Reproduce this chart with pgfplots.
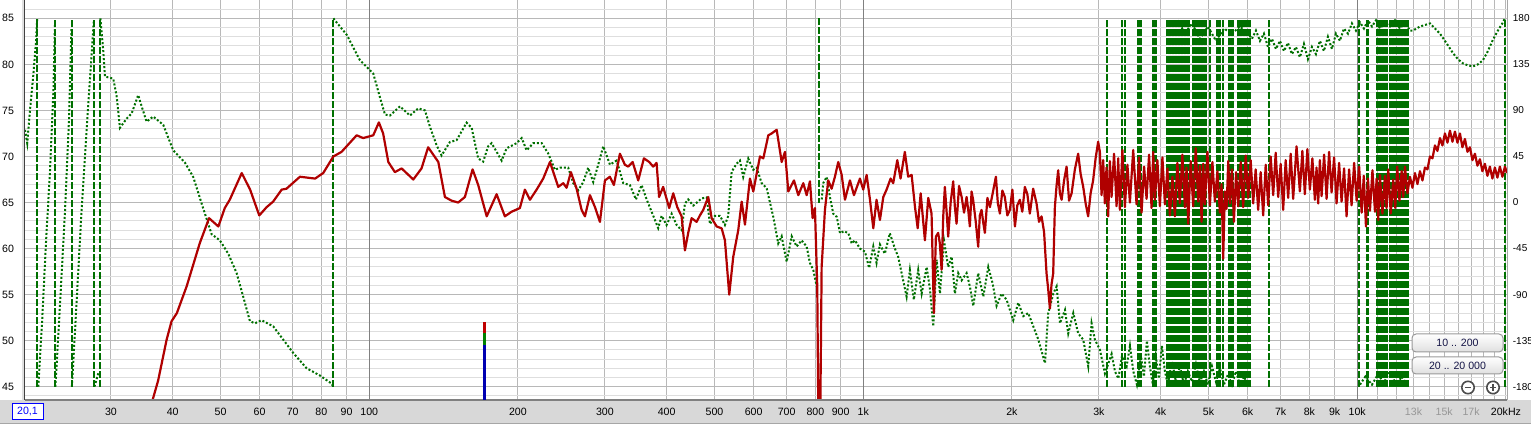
\documentclass[border=0pt]{standalone}
\usepackage{fontspec}
\setmainfont{Liberation Sans}
\usepackage{pgfplots}
\pgfplotsset{compat=1.18}
\usepackage{pgfplotstable}
\usetikzlibrary{shadings}

\definecolor{magred}{RGB}{176,0,0}
\definecolor{phgreen}{RGB}{0,112,0}
\definecolor{gridmaj}{RGB}{184,184,184}
\definecolor{gridmin}{RGB}{222,222,222}
\definecolor{griddec}{RGB}{128,128,128}
\definecolor{panel}{RGB}{216,216,216}
\definecolor{lbl}{RGB}{150,150,150}
\definecolor{btntext}{RGB}{20,20,70}

% magnitude (Hz, dB)
\pgfplotstableread[row sep=\\]{
f db\\
34.0 38.0\\ 36.5 43.7\\ 37.4 45.7\\ 38.9 50.1\\ 39.8 52.1\\ 40.8 53.0\\ 42.7 55.9\\ 45.4 60.6\\ 47.4 63.3\\ 49.5 62.4\\
51.0 64.4\\ 52.2 65.3\\ 55.2 68.2\\ 57.4 66.4\\ 59.9 63.6\\ 62.0 64.5\\ 63.9 65.1\\ 66.5 66.4\\ 68.0 66.5\\ 72.4 67.8\\
77.7 67.6\\ 80.7 68.2\\ 84.6 70.0\\ 87.9 70.5\\ 94.3 72.3\\ 97.2 72.0\\ 101.9 72.3\\ 104.6 73.7\\ 106.7 72.5\\ 109.3 69.4\\
112.7 68.3\\ 116.3 68.7\\ 122.8 67.5\\ 127.6 68.7\\ 131.6 71.0\\ 138.0 69.4\\ 142.3 65.6\\ 146.8 65.2\\ 151.4 65.0\\ 156.2 65.6\\
161.9 68.6\\ 166.2 66.9\\ 172.9 63.5\\ 181.1 65.9\\ 188.2 63.5\\ 194.2 64.0\\ 201.8 64.4\\ 206.6 66.4\\ 211.5 65.3\\ 218.2 66.4\\
225.0 67.6\\ 232.2 69.4\\ 241.3 66.7\\ 247.0 67.1\\ 250.9 66.6\\ 256.0 68.3\\ 262.9 66.5\\ 269.1 64.2\\ 273.3 63.5\\ 279.8 65.8\\
286.4 64.5\\ 293.1 62.9\\ 300.0 67.4\\ 307.0 67.8\\ 312.8 66.9\\ 321.7 70.3\\ 329.3 69.1\\ 334.4 68.9\\ 341.4 69.4\\ 350.4 67.4\\
359.8 69.8\\ 368.8 69.4\\ 375.7 68.9\\ 381.7 69.3\\ 386.2 65.6\\ 393.6 66.7\\ 404.8 64.4\\ 412.5 66.0\\ 420.3 64.5\\ 428.9 63.5\\
435.6 59.8\\ 442.3 61.7\\ 449.4 63.3\\ 460.0 62.9\\ 467.1 63.6\\ 474.4 64.2\\ 485.6 65.6\\ 493.3 63.3\\ 505.0 62.4\\ 516.9 62.2\\
524.8 60.9\\ 535.5 55.0\\ 545.6 59.1\\ 558.5 62.0\\ 567.4 65.1\\ 576.2 62.6\\ 589.8 67.6\\ 599.0 66.2\\ 618.0 70.0\\ 627.7 69.8\\
642.5 72.3\\ 652.7 72.5\\ 668.0 72.9\\ 683.8 69.4\\ 694.5 70.5\\ 705.3 66.2\\ 724.2 67.4\\ 738.9 65.8\\ 756.3 67.1\\ 768.3 65.8\\
780.2 67.3\\ 790.0 63.3\\ 798.5 64.4\\ 807.1 55.9\\ 814.6 30.0\\ 823.8 58.0\\ 836.5 64.2\\ 849.5 67.4\\ 863.0 66.5\\ 876.4 67.8\\
890.1 69.4\\ 904.4 68.0\\ 918.4 65.3\\ 940.0 67.4\\ 957.7 65.8\\ 984.8 67.6\\ 1000 66.4\\ 1016 68.0\\ 1032 65.3\\ 1048 62.2\\
1064 65.3\\ 1081 63.1\\ 1098 65.6\\ 1115 66.4\\ 1136 67.6\\ 1150 67.1\\ 1172 69.6\\ 1190 67.6\\ 1214 70.5\\ 1233 67.8\\
1253 68.0\\ 1273 64.5\\ 1289 62.2\\ 1307 66.0\\ 1333 60.9\\ 1354 65.5\\ 1375 63.8\\ 1390 53.0\\ 1403 61.3\\ 1418 61.7\\
1429 60.6\\ 1441 57.7\\ 1452 63.5\\ 1463 66.7\\ 1475 64.0\\ 1486 61.3\\ 1503 65.0\\ 1521 67.3\\ 1533 64.5\\ 1545 62.7\\
1563 66.8\\ 1582 65.6\\ 1600 63.9\\ 1619 65.6\\ 1632 64.1\\ 1644 62.4\\ 1657 66.2\\ 1669 65.3\\ 1689 63.0\\ 1709 60.2\\
1722 63.6\\ 1736 64.2\\ 1750 62.8\\ 1763 61.7\\ 1784 65.5\\ 1805 64.5\\ 1830 66.1\\ 1856 67.8\\ 1873 64.9\\ 1891 63.8\\
1913 66.3\\ 1935 65.6\\ 1958 63.6\\ 1981 64.2\\ 2004 66.4\\ 2028 62.4\\ 2051 64.7\\ 2075 65.3\\ 2099 64.0\\ 2124 66.7\\
2149 65.9\\ 2174 63.8\\ 2208 66.5\\ 2243 64.9\\ 2269 62.9\\ 2296 63.5\\ 2323 61.8\\ 2350 57.3\\ 2368 55.6\\ 2387 53.5\\
2405 56.1\\ 2424 57.3\\ 2443 64.5\\ 2462 66.8\\ 2481 68.5\\ 2501 66.0\\ 2521 65.3\\ 2550 67.4\\ 2580 68.9\\ 2610 65.2\\
2641 66.0\\ 2682 68.6\\ 2723 70.3\\ 2755 68.1\\ 2788 66.7\\ 2820 64.9\\ 2853 63.5\\ 2886 66.0\\ 2920 67.4\\ 2954 69.8\\
2989 71.6\\ 3013 70.5\\ 3037 65.8\\ 3060 69.6\\ 3084 64.9\\ 3108 68.8\\ 3132 63.5\\ 3157 69.5\\ 3182 65.6\\ 3219 70.3\\
3257 64.6\\ 3282 69.8\\ 3308 64.2\\ 3347 70.7\\ 3386 64.5\\ 3426 69.1\\ 3466 65.0\\ 3520 70.7\\ 3575 64.8\\ 3617 69.9\\
3660 63.9\\ 3703 68.9\\ 3746 65.4\\ 3790 70.2\\ 3834 64.4\\ 3864 70.5\\ 3894 65.3\\ 3940 69.6\\ 3986 64.6\\ 4033 69.9\\
4080 64.8\\ 4128 68.7\\ 4176 63.6\\ 4225 67.8\\ 4274 63.5\\ 4324 69.3\\ 4375 64.9\\ 4426 70.2\\ 4478 64.5\\ 4513 68.8\\
4548 62.7\\ 4601 69.5\\ 4655 64.6\\ 4710 70.9\\ 4765 65.1\\ 4803 69.0\\ 4841 62.9\\ 4878 69.2\\ 4916 64.8\\ 4974 70.5\\
5032 64.7\\ 5091 69.4\\ 5150 65.1\\ 5211 68.4\\ 5272 63.9\\ 5313 67.0\\ 5354 58.9\\ 5396 66.2\\ 5439 64.3\\ 5481 69.5\\
5524 64.9\\ 5576 68.6\\ 5628 62.9\\ 5685 68.3\\ 5742 64.6\\ 5809 69.4\\ 5877 64.5\\ 5946 70.1\\ 6015 65.5\\ 6086 69.6\\
6157 64.9\\ 6229 68.6\\ 6302 64.2\\ 6376 68.3\\ 6451 63.6\\ 6527 69.1\\ 6603 64.7\\ 6681 70.0\\ 6759 65.8\\ 6838 70.4\\
6918 65.6\\ 6999 69.2\\ 7081 64.2\\ 7164 69.6\\ 7248 65.5\\ 7333 70.3\\ 7419 65.4\\ 7536 71.1\\ 7654 66.2\\ 7744 70.6\\
7835 65.9\\ 7927 70.8\\ 8019 66.4\\ 8113 69.8\\ 8208 65.3\\ 8272 68.8\\ 8336 64.9\\ 8402 69.6\\ 8469 65.7\\ 8569 70.2\\
8669 65.4\\ 8771 70.5\\ 8873 66.1\\ 8977 69.9\\ 9082 64.9\\ 9189 69.3\\ 9296 65.1\\ 9405 68.7\\ 9515 63.5\\ 9627 68.6\\
9740 64.7\\ 9856 69.3\\ 9972 65.2\\ 10089 68.9\\ 10207 63.9\\ 10310 67.9\\ 10414 62.4\\ 10512 67.6\\ 10610 64.1\\ 10735 68.5\\
10861 64.0\\ 10944 67.6\\ 11027 63.1\\ 11115 68.0\\ 11246 63.8\\ 11377 67.9\\ 11465 64.4\\ 11554 68.6\\ 11690 63.8\\ 11826 67.5\\
11937 64.4\\ 12049 68.9\\ 12174 65.2\\ 12299 68.4\\ 12394 65.6\\ 12490 68.9\\ 12637 66.0\\ 12785 67.8\\ 12935 66.6\\ 13087 68.2\\
13240 67.0\\ 13395 68.4\\ 13552 67.4\\ 13711 68.8\\ 13872 68.6\\ 14034 70.0\\ 14199 69.8\\ 14365 71.2\\ 14533 70.6\\ 14704 72.0\\
14876 71.2\\ 15050 72.5\\ 15227 71.5\\ 15405 72.8\\ 15586 71.6\\ 15768 72.7\\ 15953 71.5\\ 16140 72.5\\ 16329 71.0\\ 16520 71.9\\
16714 70.5\\ 16910 71.0\\ 17108 69.6\\ 17308 70.3\\ 17511 69.0\\ 17716 69.7\\ 17923 68.4\\ 18133 69.2\\ 18346 67.9\\ 18561 68.9\\
18778 67.6\\ 18998 68.8\\ 19221 67.7\\ 19446 68.9\\ 19674 67.8\\ 19905 68.9\\ 20100 68.2\\
}\magtable

% phase (Hz, degrees); nan rows separate the wrapped pieces
\pgfplotstableread[row sep=\\]{
f p\\
20.1 71\\ 20.31 58\\ 20.57 90\\ 20.88 123\\ 21.15 156\\ 21.28 180\\ nan nan\\
21.38 -180\\ 21.75 -120\\ 22.16 -40\\ 22.58 30\\ 22.95 110\\ 23.11 175\\ nan nan\\
23.16 -180\\ 23.66 -100\\ 24.21 -10\\ 24.67 80\\ 24.96 170\\ nan nan\\
25.01 -180\\ 25.48 -110\\ 26.08 -20\\ 26.70 60\\ 27.20 120\\ 27.71 178\\ nan nan\\
27.78 -180\\ 28.36 -165\\ nan nan\\
28.56 180\\ 28.94 149\\ 29.17 123\\ 29.86 122\\ 30.33 121\\ 30.81 104\\ 31.29 73\\ 32.28 82\\ 33.04 87\\ 34.07 105\\
34.62 94\\ 35.43 79\\ 36.54 84\\ 38.28 76\\ 40.11 51\\ 42.36 39\\ 44.03 25\\ 45.79 -1\\ 47.97 -31\\ 49.86 -37\\
51.83 -50\\ 53.90 -69\\ 55.58 -92\\ 57.35 -116\\ 58.70 -118\\ 60.57 -115\\ 63.93 -121\\ 66.98 -134\\ 70.19 -147\\ 74.70 -162\\
79.47 -169\\ 83.93 -177\\ 84.50 -180\\ nan nan\\
84.60 180\\ 85.23 178\\ 90.02 164\\ 95.76 139\\ 101.9 126\\ 105.1 103\\ 107.6 86\\ 110.1 85\\ 115.4 94\\ 120.9 85\\
125.7 92\\ 129.7 90\\ 132.7 74\\ 136.9 56\\ 140.1 46\\ 145.6 59\\ 150.3 61\\ 157.4 78\\ 161.2 73\\ 166.2 43\\
170.1 40\\ 174.1 55\\ 176.9 58\\ 185.4 41\\ 189.7 53\\ 198.8 58\\ 203.5 63\\ 208.3 51\\ 214.8 58\\ 223.4 58\\
230.3 48\\ 237.6 32\\ 243.2 34\\ 252.8 34\\ 258.8 19\\ 264.9 12\\ 271.2 20\\ 277.5 34\\ 284.1 20\\ 290.8 37\\
297.7 55\\ 307.1 37\\ 316.8 41\\ 326.7 19\\ 337.1 17\\ 346.7 3\\ 356.0 17\\ 364.4 3\\ 375.8 -13\\ 384.6 -25\\
390.8 -13\\ 399.9 -22\\ 409.4 -11\\ 419.1 -22\\ 428.9 -27\\ 435.6 -1\\ 442.3 3\\ 452.8 -3\\ 470.9 4\\ 482.0 5\\
489.5 -21\\ 501.0 -13\\ 512.8 -13\\ 524.8 -22\\ 533.0 -13\\ 541.5 30\\ 554.3 38\\ 562.9 41\\ 571.6 25\\ 585.1 43\\
598.9 32\\ 608.5 34\\ 622.8 19\\ 637.6 14\\ 657.5 -14\\ 672.9 -40\\ 683.7 -33\\ 699.8 -58\\ 716.4 -33\\ 733.3 -43\\
750.5 -37\\ 768.2 -43\\ 780.2 -59\\ 792.4 -66\\ 805.1 -82\\ nan nan\\
824.0 3\\ 830.1 19\\ 843.4 25\\ 856.5 5\\ 869.8 -11\\ 883.8 -14\\ 897.4 -30\\ 914.3 -28\\ 932.8 -30\\ 947.7 -40\\
962.4 -37\\ 984.8 -45\\ 1008 -48\\ 1028 -64\\ 1048 -43\\ 1064 -59\\ 1081 -41\\ 1106 -50\\ 1132 -30\\ 1159 -45\\
1177 -53\\ 1196 -69\\ 1224 -92\\ 1243 -66\\ 1266 -95\\ 1292 -66\\ 1313 -89\\ 1344 -63\\ 1365 -85\\ 1386 -121\\
1408 -56\\ 1430 -89\\ 1457 -37\\ 1486 -63\\ 1510 -53\\ 1533 -89\\ 1557 -69\\ 1582 -76\\ 1619 -69\\ 1644 -82\\
1670 -101\\ 1709 -69\\ 1750 -92\\ 1791 -63\\ 1828 -79\\ 1862 -101\\ 1906 -89\\ 1951 -95\\ 2012 -115\\ 2060 -98\\
2109 -111\\ 2158 -108\\ 2209 -121\\ 2262 -134\\ 2333 -157\\ 2369 -108\\ 2425 -89\\ 2463 -82\\ 2502 -118\\ 2561 -105\\
2600 -128\\ 2662 -108\\ 2724 -128\\ 2788 -134\\ 2854 -160\\ 2899 -118\\ 2944 -134\\ 3014 -144\\ 3085 -167\\ 3183 -148\\
3233 -165\\ 3284 -172\\ 3341 -150\\ 3414 -160\\ 3467 -140\\ 3522 -165\\ 3581 -178\\ 3649 -150\\ 3700 -170\\ 3752 -135\\
3804 -160\\ 3858 -178\\ 3912 -150\\ 3967 -172\\ 4023 -140\\ 4080 -165\\ 4137 -178\\ 4215 -155\\ 4295 -175\\ 4375 -160\\
4458 -178\\ 4541 -165\\ 4627 -175\\ 4715 -158\\ 4803 -176\\ 4894 -165\\ 4986 -178\\ 5080 -160\\ 5176 -175\\ 5273 -162\\
5373 -178\\ 5474 -168\\ 5576 -178\\ 5682 -165\\ 5789 -178\\ 5897 -170\\ 6009 -178\\ 6064 -180\\ nan nan\\
4335 178\\ 4479 165\\ 4627 175\\ 4803 160\\ 4986 172\\ 5176 158\\ 5373 170\\ 5576 165\\ 5789 172\\ 6009 165\\
6123 160\\ 6237 168\\ 6354 158\\ 6474 165\\ 6596 152\\ 6720 160\\ 6846 150\\ 6975 158\\ 7106 148\\ 7240 156\\
7376 145\\ 7515 152\\ 7656 142\\ 7800 155\\ 7947 140\\ 8097 152\\ 8249 145\\ 8404 158\\ 8562 148\\ 8723 162\\
8887 150\\ 9054 165\\ 9225 158\\ 9398 170\\ 9576 165\\ 9756 175\\ 9940 168\\ 10127 176\\ 10318 170\\ 10512 178\\
10710 172\\ 10912 178\\ 11117 170\\ 11380 176\\ 11648 172\\ 11922 178\\ 12202 170\\ 12491 176\\ 12785 168\\ 12965 168\\
13397 172\\ 14040 175\\ 14706 165\\ 15193 155\\ 15623 146\\ 15993 140\\ 16368 136\\ 16753 134\\ 17148 133\\ 17552 135\\
17965 139\\ 18387 148\\ 18821 159\\ 19266 168\\ 19721 176\\ 19908 180\\ nan nan\\
10127 -178\\ 10386 -170\\ 10710 -178\\ 11013 -168\\ 11324 -176\\ 11648 -165\\ 11978 -178\\ 12318 -170\\ 12666 -180\\
}\phasetable

% phase wrap lines (Hz, degrees), each drawn upwards from -180 to 180
\pgfplotstableread[row sep=\\]{
f p\\
21.28 -180\\ 21.28 180\\ nan nan\\ 23.11 -180\\ 23.11 180\\ nan nan\\ 24.98 -180\\ 24.98 180\\ nan nan\\
27.71 -180\\ 27.71 180\\ nan nan\\ 28.50 -180\\ 28.50 180\\ nan nan\\ 84.55 -180\\ 84.55 180\\ nan nan\\
3121 -180\\ 3121 180\\ nan nan\\ 3335 -180\\ 3335 180\\ nan nan\\ 3395 -180\\ 3395 180\\ nan nan\\
3598 -180\\ 3598 180\\ nan nan\\ 3623 -180\\ 3623 180\\ nan nan\\ 3649 -180\\ 3649 180\\ nan nan\\
3868 -180\\ 3868 180\\ nan nan\\ 3895 -180\\ 3895 180\\ nan nan\\ 3922 -180\\ 3922 180\\ nan nan\\
4120 -180\\ 4120 180\\ nan nan\\ 4149 -180\\ 4149 180\\ nan nan\\ 4178 -180\\ 4178 180\\ nan nan\\
4207 -180\\ 4207 180\\ nan nan\\ 4237 -180\\ 4237 180\\ nan nan\\ 4266 -180\\ 4266 180\\ nan nan\\
4296 -180\\ 4296 180\\ nan nan\\ 4326 -180\\ 4326 180\\ nan nan\\ 4357 -180\\ 4357 180\\ nan nan\\
4387 -180\\ 4387 180\\ nan nan\\ 4418 -180\\ 4418 180\\ nan nan\\ 4449 -180\\ 4449 180\\ nan nan\\
4480 -180\\ 4480 180\\ nan nan\\ 4511 -180\\ 4511 180\\ nan nan\\ 4543 -180\\ 4543 180\\ nan nan\\
4575 -180\\ 4575 180\\ nan nan\\ 4650 -180\\ 4650 180\\ nan nan\\ 4683 -180\\ 4683 180\\ nan nan\\
4715 -180\\ 4715 180\\ nan nan\\ 4748 -180\\ 4748 180\\ nan nan\\ 4782 -180\\ 4782 180\\ nan nan\\
4815 -180\\ 4815 180\\ nan nan\\ 4849 -180\\ 4849 180\\ nan nan\\ 4883 -180\\ 4883 180\\ nan nan\\
4917 -180\\ 4917 180\\ nan nan\\ 4952 -180\\ 4952 180\\ nan nan\\ 5044 -180\\ 5044 180\\ nan nan\\
5200 -180\\ 5200 180\\ nan nan\\ 5236 -180\\ 5236 180\\ nan nan\\ 5273 -180\\ 5273 180\\ nan nan\\
5359 -180\\ 5359 180\\ nan nan\\ 5499 -180\\ 5499 180\\ nan nan\\ 5537 -180\\ 5537 180\\ nan nan\\
5576 -180\\ 5576 180\\ nan nan\\ 5615 -180\\ 5615 180\\ nan nan\\ 5734 -180\\ 5734 180\\ nan nan\\
5774 -180\\ 5774 180\\ nan nan\\ 5815 -180\\ 5815 180\\ nan nan\\ 5856 -180\\ 5856 180\\ nan nan\\
5897 -180\\ 5897 180\\ nan nan\\ 5938 -180\\ 5938 180\\ nan nan\\ 5980 -180\\ 5980 180\\ nan nan\\
6022 -180\\ 6022 180\\ nan nan\\ 6064 -180\\ 6064 180\\ nan nan\\ 6626 -180\\ 6626 180\\ nan nan\\
10093 -180\\ 10093 180\\ nan nan\\ 10447 -180\\ 10447 180\\ nan nan\\ 10527 -180\\ 10527 180\\ nan nan\\
10961 -180\\ 10961 180\\ nan nan\\ 11038 -180\\ 11038 180\\ nan nan\\ 11115 -180\\ 11115 180\\ nan nan\\
11193 -180\\ 11193 180\\ nan nan\\ 11271 -180\\ 11271 180\\ nan nan\\ 11350 -180\\ 11350 180\\ nan nan\\
11430 -180\\ 11430 180\\ nan nan\\ 11510 -180\\ 11510 180\\ nan nan\\ 11648 -180\\ 11648 180\\ nan nan\\
11730 -180\\ 11730 180\\ nan nan\\ 11812 -180\\ 11812 180\\ nan nan\\ 11895 -180\\ 11895 180\\ nan nan\\
11978 -180\\ 11978 180\\ nan nan\\ 12062 -180\\ 12062 180\\ nan nan\\ 12147 -180\\ 12147 180\\ nan nan\\
12232 -180\\ 12232 180\\ nan nan\\ 12318 -180\\ 12318 180\\ nan nan\\ 12404 -180\\ 12404 180\\ nan nan\\
12491 -180\\ 12491 180\\ nan nan\\ 12578 -180\\ 12578 180\\ nan nan\\ 12666 -180\\ 12666 180\\ nan nan\\
19908 -180\\ 19908 180\\
}\wraptable

% the single partial wrap line at the 815 Hz notch
\pgfplotstableread[row sep=\\]{
f p\\
814.8 180\\ 814.8 0\\
}\notchwrap

\begin{document}
\begin{tikzpicture}
\useasboundingbox (0,0) rectangle (765.5pt,213.5pt);
\fill[white] (0,0) rectangle (765.5pt,213.5pt);
\fill[panel] (0,1.5pt) rectangle (765.5pt,13.5pt);
\draw[gray!70, line width=0.5pt] (0,1.5pt) -- (765.5pt,1.5pt);
\fill[gray!25] (11pt,13.5pt) rectangle (12.3pt,213.5pt);

% grid and dB axis
\begin{axis}[
  at={(12.5pt,13.5pt)}, anchor=south west, scale only axis,
  width=741pt, height=200pt,
  xmode=log, xmin=20.1, xmax=20100,
  ymin=43.56, ymax=86.99,
  axis line style={draw=none},
  major tick length=0pt, minor tick length=0pt,
  tick label style={font=\fontsize{5.3}{6}\selectfont},
  xtick={30,40,50,60,70,80,90,100,200,300,400,500,600,700,800,900,1000,2000,3000,4000,5000,6000,7000,8000,9000,10000,11000,12000,13000,14000,15000,16000,17000,18000,19000,20000},
  xticklabels={30,40,50,60,70,80,90,100,200,300,400,500,600,700,800,900,1k,2k,3k,4k,5k,6k,7k,8k,9k,10k,{},{},\textcolor{lbl}{13k},{},\textcolor{lbl}{15k},{},\textcolor{lbl}{17k},{},{},20kHz},
  xticklabel style={anchor=center, yshift=-6pt},
  ytick={45,50,55,60,65,70,75,80,85},
  yticklabels={45,50,55,60,65,70,75,80,85},
  yticklabel style={anchor=east, xshift=-2pt},
  minor ytick={44,45,...,86},
  xmajorgrids, ymajorgrids, yminorgrids,
  major grid style={gridmaj, line width=0.5pt},
  minor grid style={gridmin, line width=0.5pt},
]
\addplot[draw=none] coordinates {(100,60)};
\draw[griddec, line width=0.5pt] (100,43.56) -- (100,86.99);
\draw[griddec, line width=0.5pt] (1000,43.56) -- (1000,86.99);
\draw[griddec, line width=0.5pt] (10000,43.56) -- (10000,86.99);
\end{axis}

% phase axis
\begin{axis}[
  at={(12.5pt,13.5pt)}, anchor=south west, scale only axis,
  width=741pt, height=200pt,
  xmode=log, xmin=20.1, xmax=20100,
  ymin=-192.96, ymax=197.9,
  axis line style={draw=none},
  major tick length=0pt, minor tick length=0pt,
  tick label style={font=\fontsize{5.0}{6}\selectfont},
  xtick=\empty,
  ytick={-180,-135,-90,-45,0,45,90,135,180},
  yticklabels={-180,-135,-90,-45,0,45,90,135,180},
  yticklabel pos=right,
  yticklabel style={anchor=west, xshift=-0.6pt},
  unbounded coords=jump,
]
\addplot[phgreen, line width=1pt, dash pattern=on 3.5pt off 0.99291pt] table[x=f, y=p] {\wraptable};
\addplot[phgreen, line width=1pt, dash pattern=on 3.5pt off 0.99291pt] table[x=f, y=p] {\notchwrap};
\addplot[phgreen, line width=1pt, dash pattern=on 1pt off 1pt] table[x=f, y=p] {\phasetable};
\end{axis}

% magnitude
\begin{axis}[
  at={(12.5pt,13.5pt)}, anchor=south west, scale only axis,
  width=741pt, height=200pt,
  xmode=log, xmin=20.1, xmax=20100,
  ymin=43.56, ymax=86.99,
  axis line style={draw=none},
  xtick=\empty, ytick=\empty,
]
\addplot[magred, line width=1.1pt, line join=round] table[x=f, y=db] {\magtable};
\end{axis}

% frame lines
\draw[black!75, line width=0.5pt] (12.3pt,13.5pt) -- (12.3pt,213.5pt);
\draw[gray, line width=1pt] (12.5pt,13.5pt) -- (753.5pt,13.5pt);
\draw[gray!70, line width=0.5pt] (753.5pt,13.5pt) -- (753.5pt,213.5pt);

% level meter
\fill[blue!70!black] (241.35pt,13.5pt) rectangle (243pt,41pt);
\fill[green!50!black] (241.35pt,41pt) rectangle (243pt,46.85pt);
\fill[red!75!black] (241.35pt,46.85pt) rectangle (243pt,52.65pt);

% start frequency box
\node[draw=blue, fill=white, text=blue, line width=0.5pt, inner sep=0.8pt,
      minimum width=15.5pt, minimum height=8pt,
      font=\fontsize{5.3}{6}\selectfont] at (13.75pt,7.75pt) {20,1};

% buttons
\begin{scope}[font=\fontsize{5.3}{6}\selectfont]
\draw[gray!80, rounded corners=2pt, top color=white, bottom color=gray!25, line width=0.5pt]
  (706pt,37.5pt) rectangle (751.5pt,46.5pt);
\node[text=btntext] at (728.75pt,42pt) {10 .. 200};
\draw[gray!80, rounded corners=2pt, top color=white, bottom color=gray!25, line width=0.5pt]
  (706pt,26.5pt) rectangle (751.5pt,35pt);
\node[text=btntext] at (728.75pt,30.75pt) {20 .. 20 000};
\end{scope}
\draw[black!70, line width=0.8pt, fill=white] (734pt,19.75pt) circle (3.1pt);
\draw[black!70, line width=0.8pt] (732.4pt,19.75pt) -- (735.6pt,19.75pt);
\draw[black!70, line width=0.8pt, fill=white] (746.5pt,19.75pt) circle (3.1pt);
\draw[black!70, line width=0.8pt] (744.9pt,19.75pt) -- (748.1pt,19.75pt);
\draw[black!70, line width=0.8pt] (746.5pt,18.15pt) -- (746.5pt,21.35pt);
\end{tikzpicture}
\end{document}
